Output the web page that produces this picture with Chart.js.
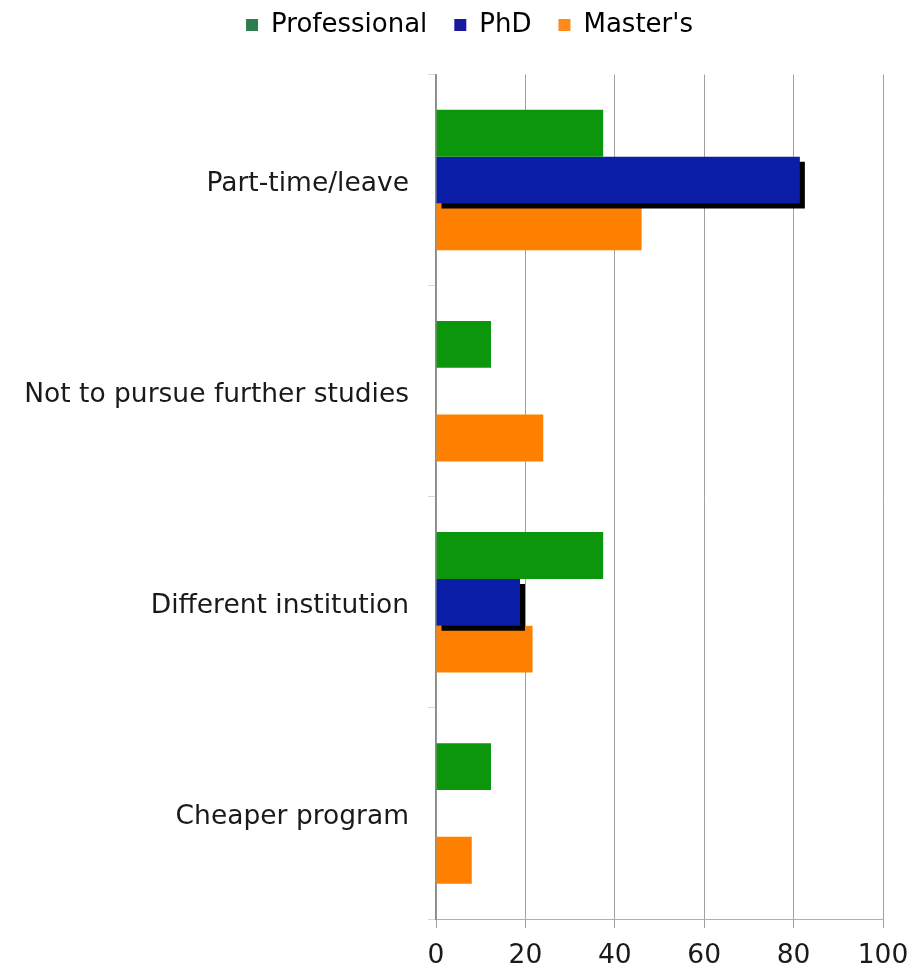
<!DOCTYPE html>
<html>
<head>
<meta charset="utf-8">
<title>Reasons by degree type</title>
<script src="https://cdn.jsdelivr.net/npm/chart.js@4.4.1/dist/chart.umd.min.js"></script>
<style>
  html, body { margin: 0; padding: 0; background: #ffffff; }
  #wrap { width: 911px; height: 974px; position: relative; }
</style>
</head>
<body>
<div id="wrap"><canvas id="chart" width="911" height="974"></canvas></div>
<script>
// Categories shown on the vertical axis
const categories = ["Part-time/leave", "Not to pursue further studies", "Different institution", "Cheaper program"];

// Percentage per category for each degree type
const professional = [37.4, 12.3, 37.4, 12.3];
const phd = [81.4, 0, 18.8, 0];
const masters = [46.0, 24.0, 21.6, 8.0];

// Value axis ticks
const xTicks = [0, 20, 40, 60, 80, 100];

const seriesNames = ["Professional", "PhD", "Master's"];
const barColors = ["#0b960b", "#0a1ea8", "#ff8000"];
const legendColors = ["#2e7d50", "#1a1aa0", "#ff8a1a"];

const FONT = "'DejaVu Sans', Verdana, sans-serif";

// Drop shadow used behind the PhD bars
const phdShadow = {
  id: 'phdShadow',
  beforeDatasetDraw(chart, args) {
    if (args.index !== 1) return;
    const ctx = chart.ctx;
    ctx.save();
    ctx.shadowColor = '#000000';
    ctx.shadowOffsetX = 5;
    ctx.shadowOffsetY = 5;
    ctx.shadowBlur = 0;
  },
  afterDatasetDraw(chart, args) {
    if (args.index !== 1) return;
    chart.ctx.restore();
  }
};

// Nudge the legend row a little to the right of the canvas centre
const legendShift = {
  id: 'legendShift',
  beforeDraw(chart) {
    const lg = chart.legend;
    if (!lg || lg._shifted) return;
    lg.left += 21;
    lg.right += 21;
    lg._shifted = true;
  }
};

new Chart(document.getElementById('chart'), {
  type: 'bar',
  data: {
    labels: categories,
    datasets: [
      { label: seriesNames[0], data: professional, backgroundColor: barColors[0] },
      { label: seriesNames[1], data: phd, backgroundColor: barColors[1] },
      { label: seriesNames[2], data: masters, backgroundColor: barColors[2] }
    ]
  },
  plugins: [phdShadow, legendShift],
  options: {
    indexAxis: 'y',
    responsive: false,
    animation: false,
    devicePixelRatio: 1,
    categoryPercentage: 0.665,
    barPercentage: 1.0,
    layout: { padding: { top: -15, left: 14, right: 28, bottom: 0 } },
    plugins: {
      tooltip: { enabled: false },
      legend: {
        display: true,
        position: 'top',
        labels: {
          boxWidth: 12,
          boxHeight: 12,
          padding: 27,
          color: '#1a1a1a',
          font: { family: FONT, size: 26 },
          generateLabels(chart) {
            return chart.data.datasets.map((ds, i) => ({
              text: ds.label,
              fillStyle: legendColors[i],
              strokeStyle: legendColors[i],
              lineWidth: 0,
              hidden: false,
              datasetIndex: i
            }));
          }
        }
      }
    },
    scales: {
      x: {
        type: 'linear',
        position: 'bottom',
        min: 0,
        max: 100,
        afterBuildTicks(scale) {
          scale.ticks = xTicks.map(v => ({ value: v }));
        },
        afterFit(scale) {
          scale.height = 55;
          scale.paddingLeft = 0;
          scale.paddingRight = 0;
        },
        ticks: {
          color: '#1a1a1a',
          padding: 12,
          font: { family: FONT, size: 26.5 }
        },
        grid: {
          color: '#a0a0a0',
          lineWidth: 1,
          tickLength: 9
        },
        border: { display: true, color: '#b0b0b0', width: 1 }
      },
      x2: {
        type: 'linear',
        position: 'top',
        display: true,
        grid: { display: false },
        border: { display: false },
        ticks: { display: false },
        afterFit(scale) { scale.height = 26.5; }
      },
      y: {
        type: 'category',
        position: 'left',
        afterFit(scale) { scale.width = 422; },
        ticks: {
          color: '#1a1a1a',
          padding: 19,
          labelOffset: 4,
          font: { family: FONT, size: 26.5 }
        },
        grid: {
          display: true,
          drawOnChartArea: false,
          offset: true,
          color: '#d8d8d8',
          tickLength: 8
        },
        border: { display: true, color: '#8a8a8a', width: 1.5 }
      }
    }
  }
});
</script>
</body>
</html>
